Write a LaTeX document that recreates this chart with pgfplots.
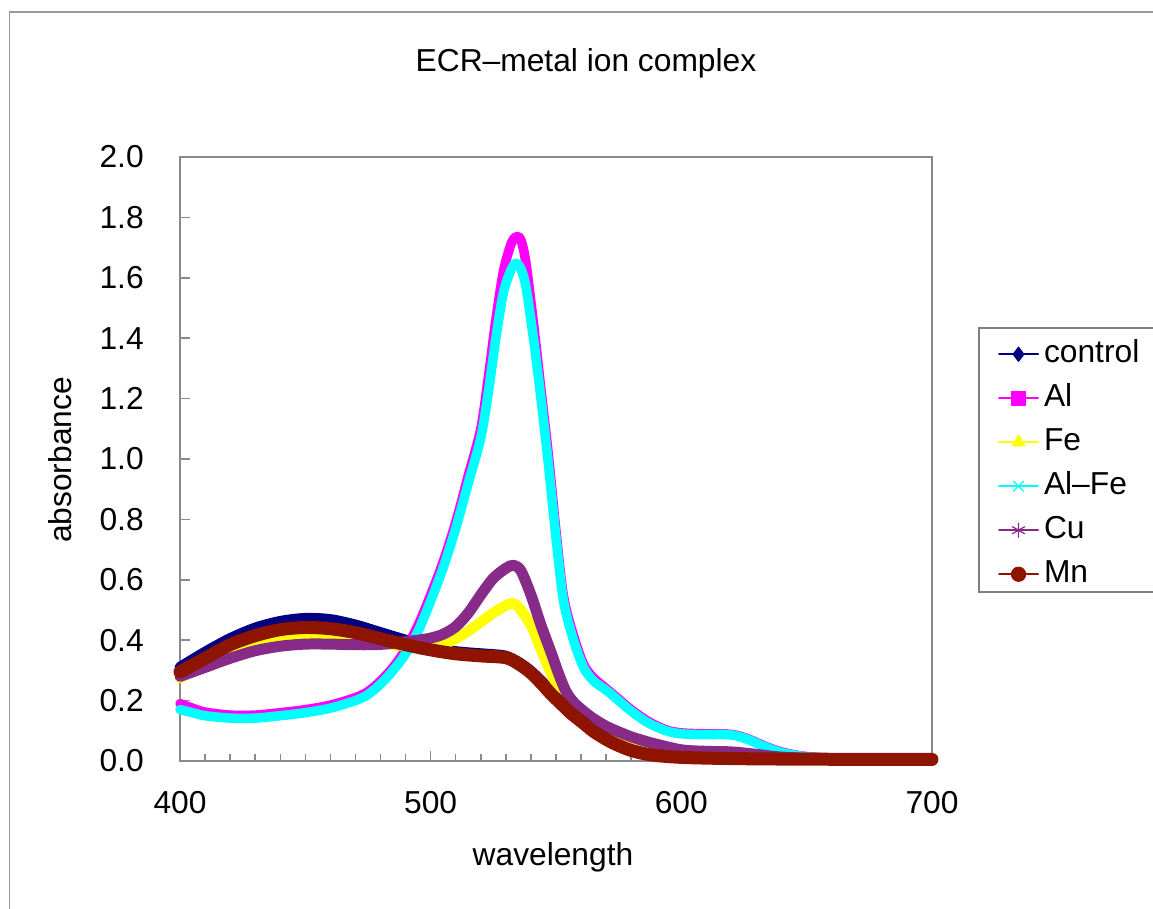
\documentclass[border=0pt]{standalone}
\usepackage{fontspec}
\setmainfont{Liberation Sans}
\usepackage{pgfplots}
\pgfplotsset{compat=1.18}
\definecolor{ctrl}{HTML}{000080}
\definecolor{alc}{HTML}{FF00FF}
\definecolor{fec}{HTML}{FFFF00}
\definecolor{alfec}{HTML}{00FFFF}
\definecolor{cuc}{HTML}{882A88}
\definecolor{mnc}{HTML}{8E1400}
\definecolor{axgray}{HTML}{8A8A8A}

% legend entry: thin line with one marker in the middle
\pgfplotsset{limg/.style 2 args={legend image code/.code={%
  \draw[#1, line width=0.8pt] (0pt,0pt) -- (15.6pt,0pt);
  \draw[#1, fill=#1, line width=0.5pt] plot[mark=#2, mark size=2.8pt] coordinates {(7.8pt,0pt)};
}}}

\begin{document}
\begin{tikzpicture}[font=\fontsize{12.7}{15}\selectfont]
  \useasboundingbox (0,0) rectangle (461.2pt,363.6pt);
  % outer chart frame (left and top edges visible)
  \draw[black!40, line width=0.6pt] (3.8pt,0pt) -- (3.8pt,358.7pt) -- (461.2pt,358.7pt);
  \node at (234.4pt,338.4pt) {ECR–metal ion complex};
  \node at (221.2pt,20.8pt) {wavelength};
  \node[rotate=90] at (24pt,179.6pt) {absorbance};
  % legend frame
  \draw[black!50, line width=0.6pt] (391.6pt,126.8pt) rectangle (475pt,232.4pt);

  \begin{axis}[
    at={(72pt,59.2pt)}, anchor=south west, scale only axis,
    width=300.8pt, height=241.6pt,
    xmin=400, xmax=700, ymin=0, ymax=2,
    xtick={400,500,600,700}, minor x tick num=9,
    ytick={0,0.2,0.4,0.6,0.8,1.0,1.2,1.4,1.6,1.8,2.0},
    tick pos=left, tick align=inside,
    major tick length=4pt, minor tick length=2.6pt,
    axis line style={draw=axgray, line width=0.7pt},
    every tick/.style={axgray, line width=0.6pt},
    clip=false,
    /pgf/number format/assume math mode=true,
    yticklabel style={/pgf/number format/fixed,
      /pgf/number format/fixed zerofill,
      /pgf/number format/precision=1, xshift=-11pt},
    xticklabel style={yshift=-8.6pt},
    legend cell align=left,
    legend style={at={(1.0878,0.7086)}, anchor=north west,
      draw=none, fill=none, inner sep=0pt, outer sep=0pt, row sep=0.6pt,
      nodes={text height=10pt, text depth=3pt, inner sep=2pt}},
  ]
    % control
    \addplot[ctrl, line width=4.4pt, smooth, tension=0.5, line join=round,
             line cap=round, limg={ctrl}{diamond*}] coordinates {
      (400,0.31) (410,0.36) (420,0.405) (430,0.44) (440,0.462) (450,0.472)
      (460,0.468) (470,0.45) (480,0.425) (490,0.40) (500,0.377) (510,0.362)
      (520,0.355) (525,0.352) (530,0.347) (535,0.327) (540,0.297) (545,0.257)
      (550,0.215) (555,0.17) (560,0.135) (565,0.105) (570,0.08) (580,0.048)
      (590,0.028) (600,0.018) (620,0.01) (650,0.006) (700,0.005)};
    % Al
    \addplot[alc, line width=3.8pt, smooth, tension=0.5, line join=round,
             line cap=round, limg={alc}{square*}] coordinates {
      (400,0.19) (405,0.175) (410,0.162) (420,0.152) (430,0.152) (440,0.16)
      (450,0.17) (460,0.185) (470,0.21) (475,0.23) (480,0.265) (485,0.31)
      (490,0.37) (495,0.45) (500,0.55) (505,0.66) (510,0.79) (515,0.945)
      (520,1.10) (523,1.27) (526,1.46) (529,1.62) (532,1.71) (534,1.736)
      (536,1.725) (538,1.65) (541,1.45) (544,1.23) (547,1.01) (550,0.76)
      (553,0.545) (557,0.415) (561,0.32) (565,0.275) (570,0.24) (575,0.205)
      (580,0.17) (587,0.13) (594,0.103) (600,0.093) (610,0.09) (617,0.09)
      (622,0.085) (627,0.072) (634,0.047) (640,0.03) (647,0.018) (654,0.012)
      (665,0.008) (700,0.005)};
    % Fe
    \addplot[fec, line width=4.2pt, smooth, tension=0.5, line join=round,
             line cap=round, limg={fec}{triangle*}] coordinates {
      (400,0.275) (410,0.32) (420,0.36) (430,0.39) (440,0.405) (450,0.41)
      (460,0.41) (470,0.40) (480,0.39) (490,0.38) (500,0.374) (505,0.385)
      (510,0.405) (515,0.43) (520,0.46) (525,0.49) (530,0.515) (533,0.522)
      (536,0.50) (540,0.45) (543,0.39) (546,0.33) (550,0.255) (555,0.19)
      (560,0.145) (565,0.108) (570,0.08) (580,0.048) (590,0.03) (600,0.02)
      (620,0.012) (650,0.007) (700,0.005)};
    % Al-Fe
    \addplot[alfec, line width=3.8pt, smooth, tension=0.5, line join=round,
             line cap=round, limg={alfec}{x}] coordinates {
      (400,0.17) (405,0.16) (410,0.15) (420,0.142) (430,0.142) (440,0.15)
      (450,0.16) (460,0.175) (470,0.20) (475,0.22) (480,0.255) (485,0.30)
      (490,0.355) (495,0.43) (500,0.53) (505,0.64) (510,0.77) (515,0.92)
      (520,1.07) (523,1.22) (526,1.40) (529,1.55) (532,1.625) (534,1.648)
      (536,1.63) (538,1.57) (541,1.40) (544,1.20) (547,0.98) (550,0.74)
      (553,0.53) (557,0.40) (561,0.31) (565,0.265) (570,0.235) (575,0.20)
      (580,0.165) (587,0.125) (594,0.10) (600,0.09) (610,0.087) (617,0.088)
      (622,0.083) (627,0.07) (634,0.045) (640,0.028) (647,0.017) (654,0.011)
      (665,0.007) (700,0.005)};
    % Cu
    \addplot[cuc, line width=4.4pt, smooth, tension=0.5, line join=round,
             line cap=round, limg={cuc}{asterisk}] coordinates {
      (400,0.28) (410,0.31) (420,0.34) (430,0.365) (440,0.38) (450,0.387)
      (460,0.387) (470,0.385) (480,0.386) (490,0.395) (495,0.40) (500,0.407)
      (505,0.42) (510,0.445) (515,0.49) (520,0.55) (525,0.605) (530,0.638)
      (533,0.648) (536,0.63) (540,0.55) (544,0.45) (548,0.36) (551,0.29)
      (554,0.23) (557,0.195) (561,0.165) (565,0.14) (570,0.115) (574,0.10)
      (580,0.08) (588,0.06) (600,0.037) (610,0.032) (620,0.03) (630,0.022)
      (640,0.013) (660,0.007) (700,0.005)};
    % Mn
    \addplot[mnc, line width=5.2pt, smooth, tension=0.5, line join=round,
             line cap=round, limg={mnc}{*}] coordinates {
      (400,0.295) (410,0.34) (420,0.385) (430,0.415) (440,0.435) (450,0.442)
      (460,0.438) (470,0.425) (480,0.405) (490,0.385) (500,0.368) (510,0.355)
      (520,0.348) (530,0.342) (535,0.322) (540,0.292) (545,0.25) (548,0.222)
      (552,0.19) (556,0.158) (561,0.125) (565,0.098) (570,0.072) (574,0.055)
      (580,0.035) (588,0.02) (600,0.012) (620,0.008) (650,0.006) (700,0.005)};
    \legend{control,Al,Fe,Al–Fe,Cu,Mn}
  \end{axis}
\end{tikzpicture}
\end{document}
